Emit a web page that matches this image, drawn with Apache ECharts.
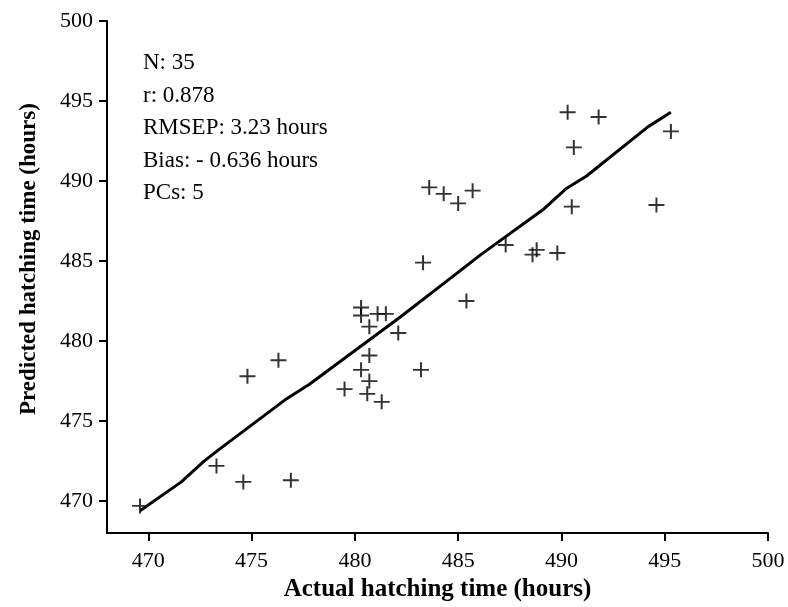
<!DOCTYPE html>
<html>
<head>
<meta charset="utf-8">
<script src="https://cdn.jsdelivr.net/npm/echarts@6/dist/echarts.min.js"></script>
<style>
    html, body { margin: 0; padding: 0; background: #fff; }
    #chart { width: 788px; height: 607px; }
</style>
</head>
<body>
<div id="chart"></div>
<script>
// 实测值 / 预测值 (hours)
var actual = [469.6, 473.3, 474.6, 476.9, 474.8, 476.3, 479.5, 480.3, 480.7, 480.6,
    481.3, 480.7, 480.3, 480.3, 481.1, 481.5, 480.7, 482.1, 483.2, 483.3,
    485.4, 490.3, 491.8, 495.3, 490.6, 483.6, 484.3, 485.0, 485.7, 490.5,
    494.6, 487.3, 488.6, 488.8, 489.8];
var predicted = [469.7, 472.2, 471.2, 471.3, 477.8, 478.8, 477.0, 478.2, 477.5, 476.7,
    476.2, 479.1, 482.1, 481.6, 481.7, 481.7, 480.9, 480.5, 478.2, 484.9,
    482.5, 494.3, 494.0, 493.1, 492.1, 489.6, 489.2, 488.6, 489.4, 488.4,
    488.5, 486.0, 485.4, 485.7, 485.5];

// fitted line
var fitX = [469.6, 471.6, 472.7, 473.4, 476.7, 477.8, 482.2, 484.9, 485.0, 486.1, 489.1, 490.2, 491.2, 494.2, 495.3];
var fitY = [469.4, 471.2, 472.5, 473.2, 476.4, 477.3, 481.5, 484.2, 484.3, 485.4, 488.2, 489.5, 490.3, 493.4, 494.3];

var tickValues = [470, 475, 480, 485, 490, 495, 500];

var statsText = ['N: 35', 'r: 0.878', 'RMSEP: 3.23 hours', 'Bias: - 0.636 hours', 'PCs: 5'];

var points = actual.map(function (v, i) { return [v, predicted[i]]; });
var fitLine = fitX.map(function (v, i) { return [v, fitY[i]]; });

var fontName = '"Liberation Serif", "Times New Roman", serif';

function makeAxis(title, isY) {
    return {
        type: 'value',
        min: 468,
        max: 500,
        name: title,
        nameLocation: 'middle',
        nameGap: isY ? 66 : 43,
        nameTextStyle: {
            fontFamily: fontName,
            fontWeight: 'bold',
            fontSize: isY ? 23 : 25,
            color: '#000',
            padding: isY ? [0, 0, 0, 36] : 0   // 标题稍微往上挪
        },
        axisLine: { onZero: false, lineStyle: { color: '#000', width: 2 } },
        axisTick: { show: true, length: 8, customValues: tickValues, lineStyle: { color: '#000', width: 2 } },
        axisLabel: {
            customValues: tickValues,
            margin: isY ? 14 : 17,
            fontFamily: fontName,
            fontSize: 22,
            color: '#000'
        },
        splitLine: { show: false }
    };
}

var myChart = echarts.init(document.getElementById('chart'));
var option = {
    animation: false,
    backgroundColor: '#fff',
    grid: { left: 107, right: 20, top: 21, bottom: 72 },
    xAxis: makeAxis('Actual hatching time (hours)', false),
    yAxis: makeAxis('Predicted hatching time (hours)', true),
    graphic: [{
        type: 'text',
        left: 143,
        top: 47,
        style: {
            text: statsText.join('\n'),
            font: '23px ' + fontName,
            lineHeight: 32.5,
            fill: '#000'
        }
    }],
    series: [
        {
            type: 'line',
            data: fitLine,
            symbol: 'none',
            lineStyle: { color: '#000', width: 3 },
            z: 2
        },
        {
            type: 'scatter',
            data: points,
            symbol: 'path://M7,0H9V7H16V9H9V16H7V9H0V7H7Z',   // "+" 号
            symbolSize: [16, 15],
            itemStyle: { color: '#000' },
            z: 3
        }
    ]
};
myChart.setOption(option);
</script>
</body>
</html>
